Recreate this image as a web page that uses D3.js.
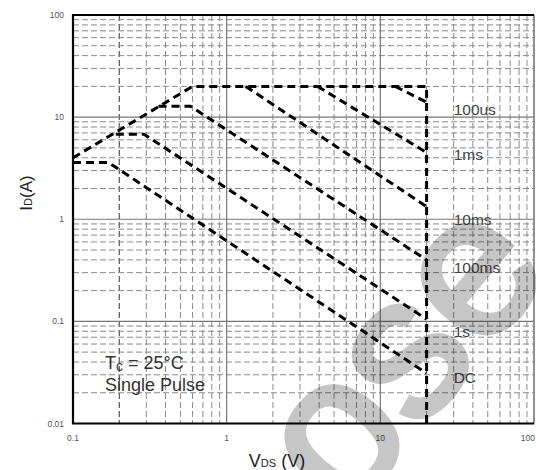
<!DOCTYPE html>
<html>
<head>
<meta charset="utf-8">
<script src="https://cdn.jsdelivr.net/npm/d3@7"></script>
<style>
body { margin: 0; background: #fff; }
text { font-family: "Liberation Sans", Arial, sans-serif; }
</style>
</head>
<body>
<script>
// SOA data (Vds in V, Id in A)
const xTicks = [0.1, 1, 10, 100];
const yTicks = [0.01, 0.1, 1, 10, 100];
const xTickLabels = ["0.1", "1", "10", "100"];
const yTickLabels = ["0.01", "0.1", "1", "10", "100"];

// envelope: Rds(on) limit, current limit, Vds limit
const envelope = [[0.1, 4.0], [0.6, 20], [20, 20], [20, 0.01]];

const curveNames = ["100us", "1ms", "10ms", "100ms", "1s", "DC"];
const curves = [
    [[12.5, 20], [20, 14]],
    [[3.9, 20], [20, 4.5]],
    [[1.33, 20], [20, 1.33]],
    [[0.36, 12.8], [0.58, 12.8], [20, 0.40]],
    [[0.19, 6.8], [0.29, 6.8], [20, 0.105]],
    [[0.1, 3.6], [0.17, 3.6], [20, 0.031]]
];
// where each name sits (Vds, Id)
const labelVds = 30;
const labelId = [11.9, 4.3, 1.0, 0.34, 0.08, 0.028];

const width = 536, height = 470;
const svg = d3.select("body").append("svg")
    .attr("width", width)
    .attr("height", height);

const x = d3.scaleLog().domain([0.1, 100]).range([73, 534]);
const y = d3.scaleLog().domain([0.01, 100]).range([423.5, 15]);

// minor grid values 2..9 in each decade
let minorX = [], minorY = [];
for (let d = 0.1; d < 100; d *= 10)
    for (let k = 2; k <= 9; k++) minorX.push(+(d * k).toPrecision(3));
for (let d = 0.01; d < 100; d *= 10)
    for (let k = 2; k <= 9; k++) minorY.push(+(d * k).toPrecision(3));

const grid = svg.append("g");
grid.selectAll(".mx").data(minorX).enter().append("line")
    .attr("x1", d => x(d)).attr("x2", d => x(d))
    .attr("y1", y(100)).attr("y2", y(0.01))
    .attr("stroke", d => d === 0.2 ? "#333" : "#8a8a8a")
    .attr("stroke-width", 1)
    .attr("stroke-dasharray", "6,3");
grid.selectAll(".my").data(minorY).enter().append("line")
    .attr("y1", d => y(d)).attr("y2", d => y(d))
    .attr("x1", x(0.1)).attr("x2", x(100))
    .attr("stroke", "#8a8a8a")
    .attr("stroke-width", 1)
    .attr("stroke-dasharray", "6,3");
// decade lines
grid.selectAll(".Mx").data(xTicks).enter().append("line")
    .attr("x1", d => x(d)).attr("x2", d => x(d))
    .attr("y1", y(100)).attr("y2", y(0.01))
    .attr("stroke", "#777").attr("stroke-width", 1.2);
grid.selectAll(".My").data(yTicks).enter().append("line")
    .attr("y1", d => y(d)).attr("y2", d => y(d))
    .attr("x1", x(0.1)).attr("x2", x(100))
    .attr("stroke", "#777").attr("stroke-width", 1.2);

// frame
svg.append("line").attr("x1", x(100)).attr("x2", x(100)).attr("y1", y(100)).attr("y2", y(0.01))
    .attr("stroke", "#888").attr("stroke-width", 1.5);
svg.append("path")
    .attr("d", `M${x(100)},${y(100)}H${x(0.1)}V${y(0.01)}H${x(100)}`)
    .attr("fill", "none").attr("stroke", "#000").attr("stroke-width", 2.2);

// tick labels
svg.selectAll(".xl").data(xTicks).enter().append("text")
    .attr("x", (d, i) => i === xTicks.length - 1 ? 535 : x(d)).attr("y", 441)
    .attr("text-anchor", (d, i) => i === xTicks.length - 1 ? "end" : "middle")
    .attr("font-size", "8.5px").attr("fill", "#555")
    .text((d, i) => xTickLabels[i]);
svg.selectAll(".yl").data(yTicks).enter().append("text")
    .attr("x", 64).attr("y", d => y(d) + 3)
    .attr("text-anchor", "end")
    .attr("font-size", "8.5px").attr("fill", "#555")
    .text((d, i) => yTickLabels[i]);

// curves
const line = d3.line().x(d => x(d[0])).y(d => y(d[1]));
const plot = svg.append("g");
plot.append("path").datum(envelope)
    .attr("d", line)
    .attr("fill", "none").attr("stroke", "#000")
    .attr("stroke-width", 3).attr("stroke-dasharray", "8,5");
plot.selectAll(".soa").data(curves).enter().append("path")
    .attr("d", line)
    .attr("fill", "none").attr("stroke", "#000")
    .attr("stroke-width", 3).attr("stroke-dasharray", "8,5");

svg.selectAll(".cl").data(curveNames).enter().append("text")
    .attr("x", x(labelVds)).attr("y", (d, i) => y(labelId[i]) + 5.5)
    .attr("font-size", "15.5px").attr("fill", "#444")
    .text(d => d);

// annotation
const note = svg.append("text").attr("x", 105).attr("y", 369)
    .attr("font-size", "18px").attr("fill", "#333");
note.append("tspan").text("T");
note.append("tspan").attr("font-size", "14px").attr("dy", 2).text("c");
note.append("tspan").attr("dy", -2).text(" = 25°C");
svg.append("text").attr("x", 105).attr("y", 391)
    .attr("font-size", "18px").attr("fill", "#333")
    .text("Single Pulse");

// axis titles
const xt = svg.append("text").attr("x", 277).attr("y", 467)
    .attr("text-anchor", "middle").attr("font-size", "18px").attr("fill", "#222");
xt.append("tspan").text("V");
xt.append("tspan").attr("font-size", "11px").text("DS");
xt.append("tspan").text("  (V)");

const yt = svg.append("text")
    .attr("transform", "translate(32,193) rotate(-90)")
    .attr("text-anchor", "middle").attr("font-size", "17px").attr("fill", "#222");
yt.append("tspan").text("I");
yt.append("tspan").attr("font-size", "11px").text("D");
yt.append("tspan").text("(A)");

// faint watermark across the lower right (cut off by the edge, as in the original)
svg.append("g").attr("opacity", 0.22)
  .append("text")
    .attr("transform", "translate(412,362) rotate(-50)")
    .attr("y", 50)
    .attr("text-anchor", "middle")
    .attr("font-size", "200px")
    .attr("fill", "#000")
    .attr("stroke", "#000").attr("stroke-width", 6)
    .text("ose");
</script>
</body>
</html>
